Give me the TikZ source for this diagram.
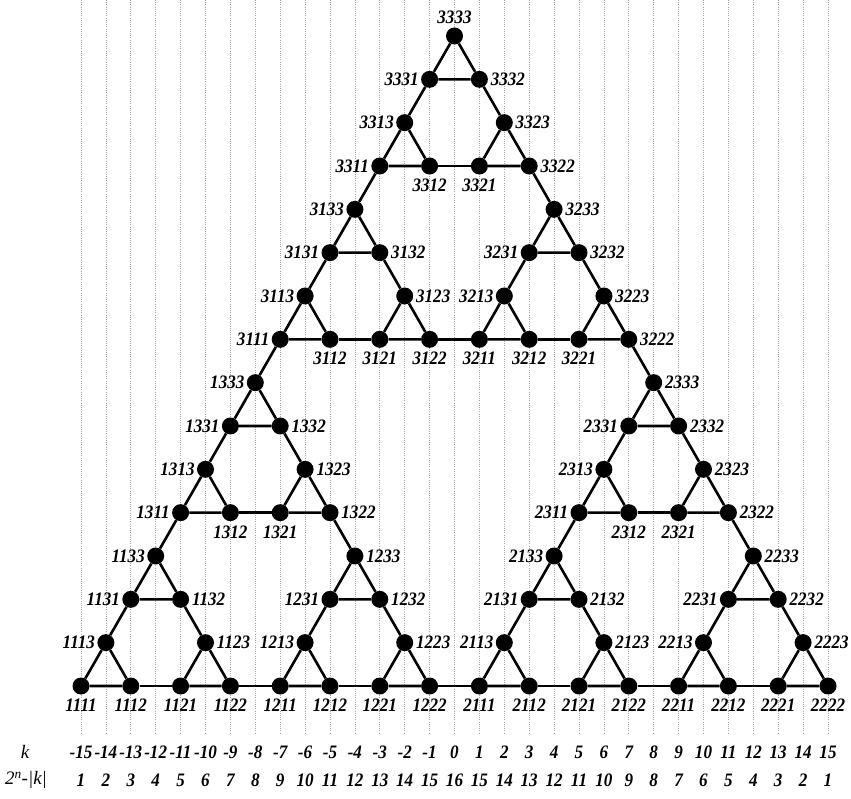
\documentclass[tikz,border=0pt]{standalone}
\usepackage{fontspec}
\setmainfont{Liberation Serif}
\newfontfamily\labfont[FakeStretch=0.9]{Liberation Serif}
\usetikzlibrary{positioning}
\begin{document}
\begin{tikzpicture}[x=1pt,y=1pt,
  vtx/.style={circle,fill=black,draw=none,minimum size=17pt,inner sep=0pt},
  lab/.style={inner sep=0pt,font=\labfont\fontsize{19}{19}\selectfont\bfseries\itshape},
  edge/.style={line width=2.6pt,black},
  grid/.style={gray!70,line width=0.7pt,dash pattern=on 0.8pt off 1.4pt}]
\useasboundingbox (0,0) rectangle (851,798);
% dotted verticals
\foreach \k in {-15,...,15}{
  \draw[grid] ({454.5+24.9*\k},798) -- ({454.5+24.9*\k},65);
}
% vertices
\foreach \a in {1,2,3}{\foreach \b in {1,2,3}{\foreach \c in {1,2,3}{\foreach \d in {1,2,3}{
  \pgfmathsetmacro\X{454.5+24.9*(-15+8*mod(2*(\a-1),3)+4*mod(2*(\b-1),3)+2*mod(2*(\c-1),3)+mod(2*(\d-1),3))}
  \pgfmathsetmacro\Y{112+43.333*(8*floor((\a-1)/2)+4*floor((\b-1)/2)+2*floor((\c-1)/2)+floor((\d-1)/2))}
  \pgfmathtruncatemacro\P{ifthenelse(\c!=\d,\c,ifthenelse(\b!=\d,\b,ifthenelse(\a!=\d,\a,0)))}
  \def\L{below}\def\D{4pt}
  \ifnum\d=1 \ifnum\P=3 \def\L{left}\def\D{2pt}\fi\fi
  \ifnum\d=2 \ifnum\P=3 \def\L{right}\def\D{2.5pt}\fi\fi
  \ifnum\d=3 \ifcase\P \def\L{above}\def\D{3pt}\or\def\L{left}\def\D{2pt}\or\def\L{right}\def\D{2.5pt}\fi\fi
  \node[vtx] (v\a\b\c\d) at (\X,\Y) {};
  \edef\tmp{\noexpand\node[lab,\L=\D\space of v\a\b\c\d] (l\a\b\c\d) {\a\b\c\d};}
  \tmp
}}}}
% edges level 0
\foreach \a in {1,2,3}{\foreach \b in {1,2,3}{\foreach \c in {1,2,3}{
  \draw[edge] (v\a\b\c1) -- (v\a\b\c2) -- (v\a\b\c3) -- (v\a\b\c1);
}}}
% edges level 1
\foreach \a in {1,2,3}{\foreach \b in {1,2,3}{\foreach \i/\j in {1/2,1/3,2/3}{
  \draw[edge] (v\a\b\i\j) -- (v\a\b\j\i);
}}}
% edges level 2
\foreach \a in {1,2,3}{\foreach \i/\j in {1/2,1/3,2/3}{
  \draw[edge] (v\a\i\j\j) -- (v\a\j\i\i);
}}
% edges level 3
\foreach \i/\j in {1/2,1/3,2/3}{
  \draw[edge] (v\i\j\j\j) -- (v\j\i\i\i);
}
% bottom rows
\node[font=\fontsize{19}{19}\selectfont\itshape] (kname) at (25,46) {k};
\node[font=\fontsize{19}{19}\selectfont\itshape] (fname) at (26,18) {2\textsuperscript{n}-|k|};
\foreach \k in {-15,...,15}{
  \pgfmathtruncatemacro\m{16-abs(\k)}
  \node[lab] (k\m a\k) at ({454.5+24.9*\k},46) {\k};
  \node[lab] (f\m b\k) at ({454.5+24.9*\k},18) {\m};
}
\end{tikzpicture}
\end{document}
